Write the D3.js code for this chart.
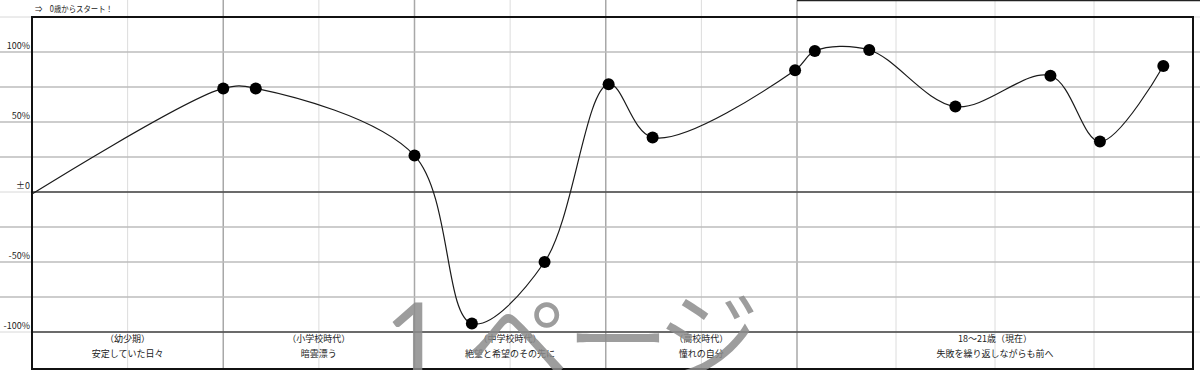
<!DOCTYPE html>
<html>
<head>
<meta charset="utf-8">
<script src="https://cdn.jsdelivr.net/npm/d3@7"></script>
<style>
  body { margin: 0; background: #fff; }
  svg { display: block; font-family: "Noto Sans CJK JP", "Noto Sans", sans-serif; }
</style>
</head>
<body>
<div id="chart"></div>
<script>
// life-chart data: x in sheet-column units, y in percent
const ages = [0, 2.0, 2.34, 4.0, 4.6, 5.36, 6.03, 6.49, 7.98, 8.18, 8.73, 9.6, 10.56, 11.06, 11.7];
const moods = [-1.5, 74, 74, 26, -94, -50, 77, 39, 87, 100.7, 101.4, 61, 83, 36, 90];

const yTicks = [100, 50, 0, -50, -100];
const yTickLabels = ['100%', '50%', '±0', '-50%', '-100%'];
const yGrid = [100, 75, 50, 25, -25, -50, -75];

const periodStart = [0, 2, 4, 6, 8];
const periodEnd = [2, 4, 6, 8, 12];
const periodNames = ['（幼少期）', '（小学校時代）', '（中学校時代）', '（高校時代）', '18～21歳（現在）'];
const periodNotes = ['安定していた日々', '暗雲漂う', '絶望と希望のその先に', '憧れの自分', '失敗を繰り返しながらも前へ'];

const width = 1200, height = 370;
const box = { left: 32, right: 1193, top: 17, bottom: 369 };

const x = d3.scaleLinear().domain([0, 8, 12]).range([box.left, 797, box.right]);
const y = d3.scaleLinear().domain([-100, 125]).range([332, box.top]);

const svg = d3.select('#chart')
  .append('svg')
  .attr('width', width)
  .attr('height', height);

svg.append('rect').attr('width', width).attr('height', height).attr('fill', '#fff');

// sheet columns (light) and period dividers (darker)
const cols = d3.range(1, 12);
svg.selectAll('.col')
  .data(cols)
  .enter()
  .append('line')
  .attr('x1', d => x(d)).attr('x2', d => x(d))
  .attr('y1', 0).attr('y2', height)
  .attr('stroke', d => periodStart.includes(d) ? '#a8a8a8' : '#dcdcdc')
  .attr('stroke-width', d => periodStart.includes(d) ? 1.5 : 1);

// horizontal gridlines
svg.selectAll('.grid')
  .data(yGrid)
  .enter()
  .append('line')
  .attr('x1', 0).attr('x2', width)
  .attr('y1', d => y(d)).attr('y2', d => y(d))
  .attr('stroke', '#bdbdbd')
  .attr('stroke-width', 1.5);

// sheet rows outside the chart
[125, 0, -100].forEach(v => {
  svg.append('line')
    .attr('x1', 0).attr('x2', width)
    .attr('y1', y(v)).attr('y2', y(v))
    .attr('stroke', '#d8d8d8');
});

// zero line and bottom axis line
svg.selectAll('.dark')
  .data([0, -100])
  .enter()
  .append('line')
  .attr('x1', box.left).attr('x2', box.right)
  .attr('y1', d => y(d)).attr('y2', d => y(d))
  .attr('stroke', '#404040')
  .attr('stroke-width', 1.5);

// top strip line on the right
svg.append('line')
  .attr('x1', x(8)).attr('x2', width)
  .attr('y1', 0.5).attr('y2', 0.5)
  .attr('stroke', '#222')
  .attr('stroke-width', 1.5);

// outer box
svg.append('rect')
  .attr('x', box.left).attr('y', box.top)
  .attr('width', box.right - box.left)
  .attr('height', box.bottom - box.top)
  .attr('fill', 'none')
  .attr('stroke', '#111')
  .attr('stroke-width', 2);

// y labels
svg.selectAll('.ylab')
  .data(yTicks)
  .enter()
  .append('text')
  .attr('x', 30)
  .attr('y', d => y(d) - 3)
  .attr('text-anchor', 'end')
  .attr('font-size', 9)
  .attr('fill', '#222')
  .text((d, i) => yTickLabels[i]);

// top note
svg.append('text')
  .attr('x', 35).attr('y', 12)
  .attr('font-size', 8.5)
  .attr('fill', '#222')
  .attr('textLength', 78)
  .attr('lengthAdjust', 'spacingAndGlyphs')
  .text('⇒　0歳からスタート！');

// period labels
svg.selectAll('.pname')
  .data(periodNames)
  .enter()
  .append('text')
  .attr('x', (d, i) => x((periodStart[i] + periodEnd[i]) / 2))
  .attr('y', 342)
  .attr('text-anchor', 'middle')
  .attr('font-size', 9)
  .attr('fill', '#222')
  .text(d => d);

svg.selectAll('.pnote')
  .data(periodNotes)
  .enter()
  .append('text')
  .attr('x', (d, i) => x((periodStart[i] + periodEnd[i]) / 2))
  .attr('y', 357)
  .attr('text-anchor', 'middle')
  .attr('font-size', 9)
  .attr('fill', '#222')
  .text(d => d);

// smoothed line
const pts = ages.map((a, i) => [a, moods[i]]);
const line = d3.line()
  .x(d => x(d[0]))
  .y(d => y(d[1]))
  .curve(d3.curveCatmullRom.alpha(0.5));

svg.append('path')
  .datum(pts)
  .attr('d', line)
  .attr('fill', 'none')
  .attr('stroke', '#1a1a1a')
  .attr('stroke-width', 1.2);

svg.selectAll('.dot')
  .data(pts.slice(1))
  .enter()
  .append('circle')
  .attr('cx', d => x(d[0]))
  .attr('cy', d => y(d[1]))
  .attr('r', 6)
  .attr('fill', '#000');

// page-break preview watermark
const wm = svg.append('text')
  .attr('y', 378)
  .attr('font-size', 104)
  .attr('font-weight', 350)
  .attr('fill', '#8c8c8c')
  .attr('fill-opacity', 0.85);
wm.append('tspan').attr('x', 384).attr('font-family', 'Lato').attr('font-weight', 400).text('1');
wm.append('tspan').attr('x', 466).text('ペ');
wm.append('tspan').attr('x', 566).text('ー');
wm.append('tspan').attr('x', 656).text('ジ');
</script>
</body>
</html>
